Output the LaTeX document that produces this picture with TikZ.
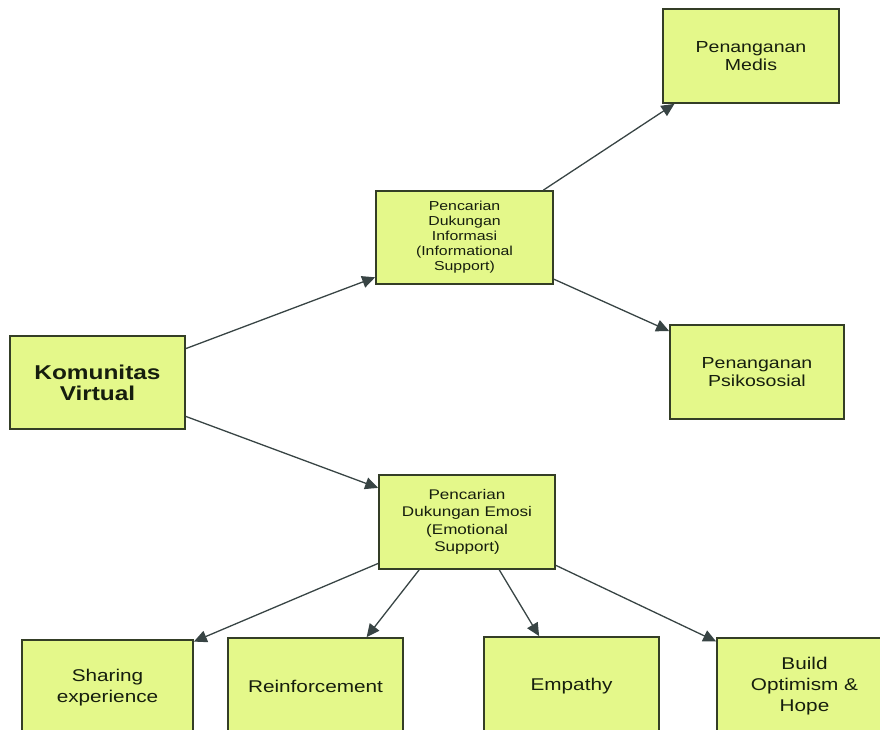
\documentclass[tikz,border=0pt]{standalone}
\usepackage{fontspec}
\setmainfont{Liberation Sans}[FakeStretch=1.22]
\usetikzlibrary{arrows.meta,calc}
\definecolor{boxfill}{RGB}{228,248,138}
\definecolor{boxline}{RGB}{52,62,38}
\definecolor{txt}{RGB}{22,30,14}
\definecolor{arrowc}{RGB}{56,68,68}
\begin{document}
\begin{tikzpicture}[x=1pt,y=-1pt,
  box/.style={draw=boxline,fill=boxfill,line width=1.7pt,inner sep=0pt,align=center,text=txt},
  conn/.style={draw=arrowc,line width=1.3pt,-{Triangle[length=13pt,width=12pt]}}]
\useasboundingbox (0,0) rectangle (880,729);
\clip (0,0) rectangle (880,729);
% boxes
\node[box,minimum width=175pt,minimum height=93pt,font=\fontsize{20}{21}\selectfont\bfseries] (kv) at (97.5,382.5) {Komunitas\\Virtual};
\node[box,minimum width=177pt,minimum height=93pt,font=\fontsize{13}{15}\selectfont] (inf) at (464.5,237.5) {Pencarian\\Dukungan\\Informasi\\(Informational\\Support)};
\node[box,minimum width=176pt,minimum height=94pt,font=\fontsize{14}{17.5}\selectfont] (emo) at (467,522) {Pencarian\\Dukungan Emosi\\(Emotional\\Support)};
\node[box,minimum width=176pt,minimum height=94pt,font=\fontsize{16}{18}\selectfont] (med) at (751,56) {Penanganan\\Medis};
\node[box,minimum width=174pt,minimum height=94pt,font=\fontsize{16}{18}\selectfont] (psi) at (757,372) {Penanganan\\Psikososial};
\node[box,minimum width=171pt,minimum height=95pt,font=\fontsize{17}{21}\selectfont] (sha) at (107.5,687.5) {Sharing\\experience};
\node[box,minimum width=175pt,minimum height=97pt,font=\fontsize{17}{21}\selectfont] (rei) at (315.5,686.5) {Reinforcement};
\node[box,minimum width=175pt,minimum height=98pt,font=\fontsize{17}{21}\selectfont] (emp) at (571.5,686) {Empathy};
\node[box,minimum width=175pt,minimum height=97pt,font=\fontsize{17}{21}\selectfont] (bui) at (804.5,686.5) {Build\\Optimism \&\\Hope};
% connectors
\draw[conn] (kv.21.5) -- (inf.204.3);
\draw[conn] (kv.-21.5) -- (emo.159.8);
\draw[conn] (inf.31.8) -- (med.212.4);
\draw[conn] (inf.-25.9) -- (psi.155.9);
\draw[conn] (emo.205) -- (sha.28);
\draw[conn] (emo.225.6) -- (rei.44.4);
\draw[conn] (emo.-56) -- (emp.123.8);
\draw[conn] (emo.-26) -- (bui.153);
\end{tikzpicture}
\end{document}
